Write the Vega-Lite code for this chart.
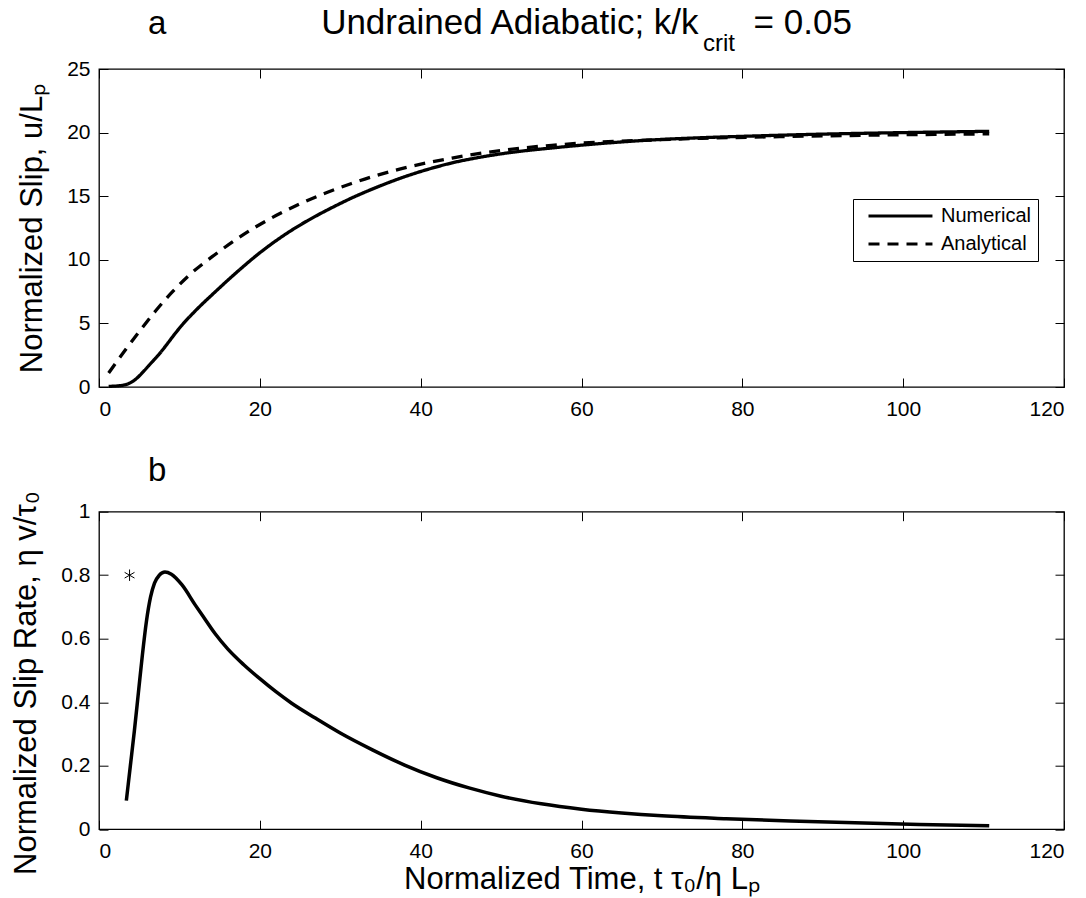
{
  "$schema": "https://vega.github.io/schema/vega-lite/v6.json",
  "background": "white",
  "padding": {"left": 10, "top": 5, "right": 5, "bottom": 5},
  "config": {
    "font": "Liberation Sans",
    "view": {"stroke": "black", "strokeWidth": 1.3},
    "axis": {
      "domain": false, "grid": false,
      "tickColor": "black", "tickSize": -9, "tickWidth": 1,
      "labelColor": "black", "labelFontSize": 21, "labelFont": "Liberation Sans",
      "titleColor": "black", "titleFontSize": 31, "titleFontWeight": "normal", "titleFont": "Liberation Sans"
    },
    "axisX": {"labelPadding": 20, "titlePadding": 3},
    "axisY": {"labelPadding": 18, "titlePadding": 18},
    "text": {"color": "black", "font": "Liberation Sans"}
  },
  "datasets": {
    "slip": [
      {"t": 1.2, "u": 0.05, "series": "Numerical"},
      {"t": 2.5, "u": 0.1, "series": "Numerical"},
      {"t": 3.5, "u": 0.22, "series": "Numerical"},
      {"t": 4.5, "u": 0.58, "series": "Numerical"},
      {"t": 5.5, "u": 1.2, "series": "Numerical"},
      {"t": 6.5, "u": 1.9, "series": "Numerical"},
      {"t": 7.5, "u": 2.6, "series": "Numerical"},
      {"t": 8.5, "u": 3.4, "series": "Numerical"},
      {"t": 9.4, "u": 4.15, "series": "Numerical"},
      {"t": 10.3, "u": 4.85, "series": "Numerical"},
      {"t": 12.0, "u": 6.0, "series": "Numerical"},
      {"t": 14.4, "u": 7.45, "series": "Numerical"},
      {"t": 17.0, "u": 8.95, "series": "Numerical"},
      {"t": 20.2, "u": 10.65, "series": "Numerical"},
      {"t": 23.0, "u": 11.93, "series": "Numerical"},
      {"t": 26.0, "u": 13.1, "series": "Numerical"},
      {"t": 28.5, "u": 13.95, "series": "Numerical"},
      {"t": 31.4, "u": 14.85, "series": "Numerical"},
      {"t": 35.0, "u": 15.82, "series": "Numerical"},
      {"t": 38.0, "u": 16.53, "series": "Numerical"},
      {"t": 41.0, "u": 17.13, "series": "Numerical"},
      {"t": 43.9, "u": 17.62, "series": "Numerical"},
      {"t": 47.0, "u": 18.02, "series": "Numerical"},
      {"t": 51.0, "u": 18.42, "series": "Numerical"},
      {"t": 56.3, "u": 18.79, "series": "Numerical"},
      {"t": 62.0, "u": 19.12, "series": "Numerical"},
      {"t": 68.7, "u": 19.42, "series": "Numerical"},
      {"t": 75.0, "u": 19.6, "series": "Numerical"},
      {"t": 81.2, "u": 19.73, "series": "Numerical"},
      {"t": 90.0, "u": 19.88, "series": "Numerical"},
      {"t": 100.0, "u": 20.0, "series": "Numerical"},
      {"t": 110.7, "u": 20.1, "series": "Numerical"},
      {"t": 1.2, "u": 1.1, "series": "Analytical"},
      {"t": 3.2, "u": 2.85, "series": "Analytical"},
      {"t": 5.3, "u": 4.6, "series": "Analytical"},
      {"t": 7.0, "u": 5.95, "series": "Analytical"},
      {"t": 9.0, "u": 7.4, "series": "Analytical"},
      {"t": 11.5, "u": 8.95, "series": "Analytical"},
      {"t": 14.4, "u": 10.4, "series": "Analytical"},
      {"t": 19.4, "u": 12.55, "series": "Analytical"},
      {"t": 25.0, "u": 14.4, "series": "Analytical"},
      {"t": 31.4, "u": 16.0, "series": "Analytical"},
      {"t": 37.5, "u": 17.15, "series": "Analytical"},
      {"t": 43.9, "u": 18.0, "series": "Analytical"},
      {"t": 50.0, "u": 18.6, "series": "Analytical"},
      {"t": 56.3, "u": 19.0, "series": "Analytical"},
      {"t": 62.0, "u": 19.25, "series": "Analytical"},
      {"t": 68.7, "u": 19.42, "series": "Analytical"},
      {"t": 75.0, "u": 19.55, "series": "Analytical"},
      {"t": 81.2, "u": 19.64, "series": "Analytical"},
      {"t": 90.0, "u": 19.74, "series": "Analytical"},
      {"t": 100.0, "u": 19.83, "series": "Analytical"},
      {"t": 110.7, "u": 19.9, "series": "Analytical"}
    ],
    "rate": [
      {"t": 3.4, "v": 0.09},
      {"t": 3.9, "v": 0.2},
      {"t": 4.4, "v": 0.31},
      {"t": 4.9, "v": 0.43},
      {"t": 5.4, "v": 0.55},
      {"t": 5.9, "v": 0.655},
      {"t": 6.4, "v": 0.73},
      {"t": 6.9, "v": 0.775},
      {"t": 7.5, "v": 0.8},
      {"t": 8.2, "v": 0.81},
      {"t": 9.0, "v": 0.803},
      {"t": 10.3, "v": 0.77},
      {"t": 12.0, "v": 0.705},
      {"t": 13.0, "v": 0.668},
      {"t": 14.4, "v": 0.617},
      {"t": 16.0, "v": 0.568},
      {"t": 18.0, "v": 0.518},
      {"t": 20.0, "v": 0.474},
      {"t": 22.0, "v": 0.433},
      {"t": 24.0, "v": 0.396},
      {"t": 26.9, "v": 0.35},
      {"t": 30.0, "v": 0.303},
      {"t": 34.0, "v": 0.25},
      {"t": 38.0, "v": 0.202},
      {"t": 42.0, "v": 0.162},
      {"t": 46.0, "v": 0.13},
      {"t": 50.0, "v": 0.104},
      {"t": 55.0, "v": 0.08},
      {"t": 60.0, "v": 0.063},
      {"t": 65.0, "v": 0.051},
      {"t": 70.0, "v": 0.042},
      {"t": 78.0, "v": 0.033},
      {"t": 86.0, "v": 0.026},
      {"t": 94.0, "v": 0.02},
      {"t": 102.0, "v": 0.015},
      {"t": 110.7, "v": 0.011}
    ],
    "star": [
      {"t": 3.8, "v": 0.8}
    ],
    "one": [
      {}
    ]
  },
  "vconcat": [
    {
      "width": 965,
      "height": 318,
      "layer": [
        {
          "data": {"name": "slip"},
          "mark": {"type": "line", "color": "black", "strokeWidth": 3.3, "interpolate": "monotone"},
          "encoding": {
            "x": {"field": "t", "type": "quantitative", "scale": {"domain": [0, 120]},
                  "axis": {"values": [0, 20, 40, 60, 80, 100, 120], "title": null}},
            "y": {"field": "u", "type": "quantitative", "scale": {"domain": [0, 25]},
                  "axis": {"values": [0, 5, 10, 15, 20, 25], "title": "Normalized Slip, u/Lₚ"}},
            "strokeDash": {
              "field": "series", "type": "nominal",
              "scale": {"domain": ["Numerical", "Analytical"], "range": [[1, 0], [11, 8]]},
              "legend": {
                "orient": "none", "legendX": 754, "legendY": 130, "title": null,
                "symbolType": "M-0.167,0H6.94", "symbolSize": 324, "symbolStrokeWidth": 3,
                "symbolStrokeColor": "black", "labelFontSize": 20, "labelOffset": 60.5,
                "padding": 6.5, "rowPadding": 7, "strokeColor": "black", "fillColor": "white",
                "labelColor": "black", "labelFont": "Liberation Sans"
              }
            }
          }
        },
        {
          "data": {"name": "one"},
          "mark": {"type": "text", "align": "right", "baseline": "alphabetic", "fontSize": 35},
          "encoding": {
            "x": {"datum": 74.56, "type": "quantitative", "scale": {"domain": [0, 120]},
                  "axis": {"orient": "top", "values": [0, 20, 40, 60, 80, 100, 120], "labels": false, "title": null}},
            "y": {"datum": 27.75, "type": "quantitative", "scale": {"domain": [0, 25]},
                  "axis": {"orient": "right", "values": [0, 5, 10, 15, 20, 25], "labels": false, "title": null}},
            "text": {"value": "Undrained Adiabatic; k/k"}
          }
        },
        {
          "data": {"name": "one"},
          "mark": {"type": "text", "align": "left", "baseline": "alphabetic", "fontSize": 24},
          "encoding": {
            "x": {"datum": 75.1, "type": "quantitative", "scale": {"domain": [0, 120]}, "axis": null},
            "y": {"datum": 26.42, "type": "quantitative", "scale": {"domain": [0, 25]}, "axis": null},
            "text": {"value": "crit"}
          }
        },
        {
          "data": {"name": "one"},
          "mark": {"type": "text", "align": "left", "baseline": "alphabetic", "fontSize": 35},
          "encoding": {
            "x": {"datum": 81.4, "type": "quantitative", "scale": {"domain": [0, 120]}, "axis": null},
            "y": {"datum": 27.75, "type": "quantitative", "scale": {"domain": [0, 25]}, "axis": null},
            "text": {"value": "= 0.05"}
          }
        },
        {
          "data": {"name": "one"},
          "mark": {"type": "text", "align": "left", "baseline": "alphabetic", "fontSize": 33},
          "encoding": {
            "x": {"datum": 6.1, "type": "quantitative", "scale": {"domain": [0, 120]}, "axis": null},
            "y": {"datum": 27.75, "type": "quantitative", "scale": {"domain": [0, 25]}, "axis": null},
            "text": {"value": "a"}
          }
        }
      ],
      "resolve": {"axis": {"x": "independent", "y": "independent"}}
    },
    {
      "width": 965,
      "height": 317.5,
      "layer": [
        {
          "data": {"name": "rate"},
          "mark": {"type": "line", "color": "black", "strokeWidth": 3.5, "interpolate": "monotone"},
          "encoding": {
            "x": {"field": "t", "type": "quantitative", "scale": {"domain": [0, 120]},
                  "axis": {"values": [0, 20, 40, 60, 80, 100, 120], "title": "Normalized Time, t τ₀/η Lₚ"}},
            "y": {"field": "v", "type": "quantitative", "scale": {"domain": [0, 1]},
                  "axis": {"values": [0, 0.2, 0.4, 0.6, 0.8, 1], "format": "~g", "title": "Normalized Slip Rate, η v/τ₀", "titleY": 171}}
          }
        },
        {
          "data": {"name": "star"},
          "mark": {"type": "point", "shape": "M0,-1V1M-0.866,-0.5L0.866,0.5M-0.866,0.5L0.866,-0.5", "size": 130, "filled": false, "stroke": "black", "strokeWidth": 1, "opacity": 1},
          "encoding": {
            "x": {"field": "t", "type": "quantitative", "scale": {"domain": [0, 120]}, "axis": null},
            "y": {"field": "v", "type": "quantitative", "scale": {"domain": [0, 1]}, "axis": null}
          }
        },
        {
          "data": {"name": "one"},
          "mark": {"type": "text", "align": "left", "baseline": "alphabetic", "fontSize": 33},
          "encoding": {
            "x": {"datum": 6.1, "type": "quantitative", "scale": {"domain": [0, 120]},
                  "axis": {"orient": "top", "values": [0, 20, 40, 60, 80, 100, 120], "labels": false, "title": null}},
            "y": {"datum": 1.097, "type": "quantitative", "scale": {"domain": [0, 1]},
                  "axis": {"orient": "right", "values": [0, 0.2, 0.4, 0.6, 0.8, 1], "labels": false, "title": null}},
            "text": {"value": "b"}
          }
        }
      ],
      "resolve": {"axis": {"x": "independent", "y": "independent"}}
    }
  ],
  "spacing": 124.7,
  "bounds": "flush"
}
